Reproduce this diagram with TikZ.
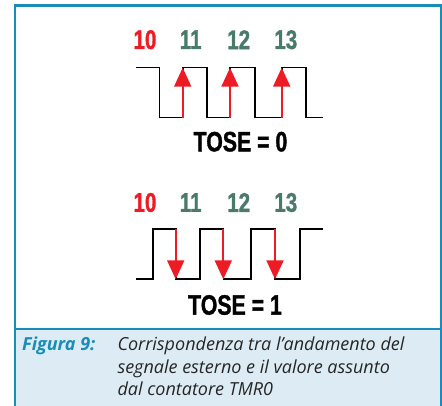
\documentclass[tikz,border=0pt]{standalone}
\usepackage{fontspec}
\usepackage{xcolor}
\usetikzlibrary{arrows.meta}
\newfontfamily\digitfont{Liberation Sans}[FakeStretch=0.76, FakeBold=1.2]
\newfontfamily\captionfont{Open Sans}
\definecolor{frameblue}{RGB}{26,140,184}
\definecolor{capfill}{RGB}{221,236,244}
\definecolor{cntred}{RGB}{237,28,36}
\definecolor{cntgreen}{RGB}{74,122,106}

\begin{document}
\begin{tikzpicture}[x=1pt, y=-1pt,
  count/.style={inner sep=0, font=\digitfont\bfseries\fontsize{27}{27}\selectfont},
  tose/.style={inner sep=0, font=\digitfont\bfseries\fontsize{28}{28}\selectfont},
  wave/.style={line width=1.6pt},
  edge/.style={cntred, line width=2pt, -{Triangle[width=17pt, length=19pt]}},
  capline/.style={anchor=base west, inner sep=0, font=\captionfont\itshape\fontsize{18}{22.5}\selectfont}]
  \useasboundingbox (0,0) rectangle (442,406);
  % frame and caption box
  \fill[capfill] (15,329) rectangle (441.3,406);
  \draw[frameblue, line width=2.5pt] (15,406) -- (15,5.3) -- (441.3,5.3) -- (441.3,406);
  \draw[frameblue, line width=2pt] (15,329) -- (441.3,329);

  % TOSE = 0, count on rising edge
  \node[count, cntred] (up10) at (145,39.7) {10};
  \foreach \x/\n in {190.7/11, 238.7/12, 285.8/13}
    \node[count, cntgreen] (up\n) at (\x,39.7) {\n};
  \draw[wave] (136,67.7) -| (159.3,117.7) -| (182.7,67.7) -| (206.7,117.7) -| (230,67.7)
    -| (255,117.7) -| (281.7,67.7) -| (305.7,117.7) -- (323.3,117.7);
  \foreach \x in {182.7, 230, 281.7}
    \draw[edge] (\x,117.7) -- (\x,67.7);
  \node[tose] (tose0) at (240.5,141.7) {TOSE = 0};

  % TOSE = 1, count on falling edge
  \node[count, cntred] (down10) at (145,202.5) {10};
  \foreach \x/\n in {190.7/11, 238.7/12, 285.8/13}
    \node[count, cntgreen] (down\n) at (\x,202.5) {\n};
  \draw[wave] (136,279.3) -| (152.7,229.3) -| (175.7,279.3) -| (200,229.3) -| (223.3,279.3)
    -| (250.7,229.3) -| (275,279.3) -| (300,229.3) -- (323.3,229.3);
  \foreach \x in {175.7, 223.3, 275}
    \draw[edge] (\x,229.3) -- (\x,279.3);
  \node[tose] (tose1) at (235,305) {TOSE = 1};

  % caption
  \node[capline, frameblue, font=\captionfont\bfseries\itshape\fontsize{18}{22.5}\selectfont] (figlabel) at (22,350.5) {Figura 9:};
  \node[capline, align=left, text=black!85] (captext) at (117.3,395.5)
    {Corrispondenza tra l’andamento del\\segnale esterno e il valore assunto\\dal contatore TMR0};
\end{tikzpicture}
\end{document}
